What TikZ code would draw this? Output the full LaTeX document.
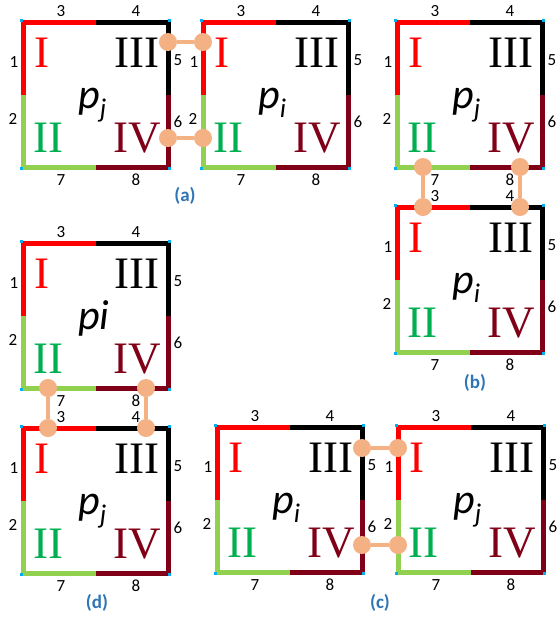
\documentclass[tikz,border=0pt]{standalone}
\usepackage{fontspec}
\setmainfont{Carlito}
\newfontfamily\romfont{Liberation Serif}
\definecolor{cred}{RGB}{255,0,0}
\definecolor{cblack}{RGB}{0,0,0}
\definecolor{cgreen}{RGB}{146,208,80}
\definecolor{cdark}{RGB}{128,0,24}
\definecolor{tgreen}{RGB}{0,176,80}
\definecolor{conn}{RGB}{244,177,131}
\definecolor{capblue}{RGB}{46,117,182}
\definecolor{cdot}{RGB}{0,176,240}
\tikzset{
  edgeline/.style={line width=5pt},
  num/.style={font=\fontsize{17}{17}\selectfont, inner sep=0pt},
  roman/.style={font=\romfont\fontsize{45}{45}\selectfont, inner sep=0pt},
  plabel/.style={font=\fontsize{42}{42}\selectfont\itshape, inner sep=0pt, anchor=base west},
  joint/.style={circle, fill=conn, minimum size=18pt, inner sep=0pt},
  link/.style={draw=conn, line width=4pt},
  caption/.style={font=\bfseries\fontsize{19}{19}\selectfont, text=capblue, inner sep=0pt},
  cornerdot/.style={fill=cdot, minimum size=3pt, inner sep=0pt}
}
\newcommand\sqbox[4]{%
\begin{scope}[shift={(#2,#3)}]
\draw[edgeline, draw=cred] (0,72.5) -- (0,0) -- (72.5,0);
\draw[edgeline, draw=cblack] (72.5,0) -- (145,0) -- (145,72.5);
\draw[edgeline, draw=cdark] (145,72.5) -- (145,145) -- (72.5,145);
\draw[edgeline, draw=cgreen] (72.5,145) -- (0,145) -- (0,72.5);
\node[cornerdot] (#1-c1) at (-1.5,-1.5) {};
\node[cornerdot] (#1-c2) at (146.5,-1.5) {};
\node[cornerdot] (#1-c3) at (146.5,146.5) {};
\node[cornerdot] (#1-c4) at (-1.5,146.5) {};
\node[num] (#1-n1) at (-9,40) {1};
\node[num] (#1-n2) at (-10,97) {2};
\node[num] (#1-n3) at (38,-11) {3};
\node[num] (#1-n4) at (113,-11) {4};
\node[num] (#1-n5) at (155,38) {5};
\node[num] (#1-n6) at (155,100) {6};
\node[num] (#1-n7) at (38,158) {7};
\node[num] (#1-n8) at (113,158) {8};
\node[roman, text=cred] (#1-r1) at (19,31) {I};
\node[roman, text=cblack] (#1-r3) at (114,31) {III};
\node[roman, text=tgreen] (#1-r2) at (25,116) {II};
\node[roman, text=cdark] (#1-r4) at (114,116) {IV};
\node[plabel] (#1-p) at (55,86) {#4};
\end{scope}}
\newcommand\pj{p\raisebox{-9pt}{\fontsize{27}{27}\selectfont j}}
\newcommand\pisub{p\raisebox{-9pt}{\fontsize{27}{27}\selectfont i}}
\begin{document}
\begin{tikzpicture}[x=1pt,y=-1pt]
\useasboundingbox (0,0) rectangle (557,622);
\fill[white] (0,0) rectangle (557,622);
% (a)
\sqbox{A1}{23}{22}{\pj}
\sqbox{A2}{203}{22}{\pisub}
% (b)
\sqbox{B1}{397}{22}{\pj}
\sqbox{B2}{397}{207}{\pisub}
% (d)
\sqbox{D1}{23}{243}{pi}
\sqbox{D2}{23}{428}{\pj}
% (c)
\sqbox{C1}{217}{427}{\pisub}
\sqbox{C2}{398}{427}{\pj}
% connectors (a)
\node[joint] (a5) at (168,42) {};
\node[joint] (a1) at (203,42) {};
\node[joint] (a6) at (168,138) {};
\node[joint] (a2) at (203,138) {};
\draw[link] (a5) -- (a1);
\draw[link] (a6) -- (a2);
% connectors (b)
\node[joint] (b7) at (423,167) {};
\node[joint] (b8) at (520,167) {};
\node[joint] (b3) at (423,207) {};
\node[joint] (b4) at (520,207) {};
\draw[link] (b7) -- (b3);
\draw[link] (b8) -- (b4);
% connectors (d)
\node[joint] (d7) at (48,388) {};
\node[joint] (d8) at (146,388) {};
\node[joint] (d3) at (48,428) {};
\node[joint] (d4) at (146,428) {};
\draw[link] (d7) -- (d3);
\draw[link] (d8) -- (d4);
% connectors (c)
\node[joint] (c5) at (362,448) {};
\node[joint] (c1) at (398,448) {};
\node[joint] (c6) at (362,545) {};
\node[joint] (c2) at (398,545) {};
\draw[link] (c5) -- (c1);
\draw[link] (c6) -- (c2);
% captions
\node[caption] (capa) at (185,196) {(a)};
\node[caption] (capb) at (475,383) {(b)};
\node[caption] (capd) at (97,603) {(d)};
\node[caption] (capc) at (380,603) {(c)};
\end{tikzpicture}
\end{document}
